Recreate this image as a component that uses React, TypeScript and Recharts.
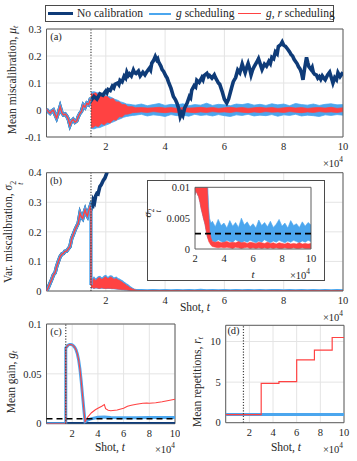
import React from 'react';
import { ComposedChart, Line, Area, XAxis, YAxis, CartesianGrid, ReferenceLine, ReferenceArea } from 'recharts';

const FONT = '"Liberation Serif", "DejaVu Serif", serif';
const INK = '#262626';
const NAVY = '#0e3b78';
const BLUE = '#4ba6ee';
const RED = '#ff4242';
const GRID = '#e4e4e4';
const FRAME = '#5e5e5e';

// ---------- axes ----------
const xTicks = [2, 4, 6, 8, 10];
const insetXTicks = [2, 4, 6, 8, 10];
const muTicks = [-0.1, 0, 0.1, 0.2, 0.3];
const varTicks = [0, 0.1, 0.2, 0.3, 0.4];
const insetVarTicks = [0, 0.005, 0.01];
const gainTicks = [0, 0.05, 0.1];
const repTicks = [0, 5, 10];
const calibrationStart = 1.5; // x10^4 shots
const gainTarget = 0.005;
const varTarget = 0.0025;

// ---------- (a) mean miscalibration ----------
const muPre: number[][] = [[0,0.003],[0.06,-0.006],[0.12,-0.012],[0.18,-0.004],[0.23,0],[0.3,-0.02],[0.34,-0.03],[0.4,-0.01],[0.46,0.012],[0.52,-0.01],[0.57,-0.018],[0.63,-0.015],[0.68,-0.022],[0.74,-0.035],[0.79,-0.056],[0.84,-0.042],[0.9,-0.035],[0.96,-0.045],[1.02,-0.04],[1.07,-0.025],[1.13,-0.012],[1.18,-0.005],[1.24,0.018],[1.3,0.01],[1.36,0.025],[1.42,0.02],[1.47,0.037],[1.5,0.035]];
const muNoCal: number[][] = [[1.5,0.035],[1.6,0.05],[1.7,0.04],[1.8,0.06],[1.9,0.055],[2.0,0.07],[2.04,0.064],[2.08,0.076],[2.15,0.072],[2.22,0.088],[2.27,0.082],[2.31,0.095],[2.4,0.1],[2.44,0.094],[2.48,0.11],[2.55,0.104],[2.62,0.125],[2.67,0.118],[2.71,0.14],[2.76,0.128],[2.8,0.134],[2.86,0.126],[2.93,0.148],[2.97,0.138],[3.02,0.135],[3.1,0.144],[3.16,0.126],[3.25,0.14],[3.32,0.13],[3.39,0.143],[3.47,0.155],[3.51,0.148],[3.55,0.173],[3.62,0.185],[3.67,0.198],[3.72,0.186],[3.75,0.19],[3.78,0.178],[3.86,0.162],[3.9,0.15],[3.95,0.143],[4.03,0.125],[4.07,0.118],[4.11,0.105],[4.2,0.08],[4.28,0.05],[4.35,0.038],[4.4,0.025],[4.46,0.005],[4.51,-0.025],[4.56,-0.012],[4.6,-0.02],[4.66,0.008],[4.74,0.025],[4.82,0.05],[4.86,0.045],[4.9,0.074],[4.98,0.09],[5.03,0.085],[5.07,0.11],[5.15,0.102],[5.24,0.12],[5.28,0.112],[5.32,0.128],[5.41,0.136],[5.46,0.124],[5.5,0.128],[5.58,0.118],[5.66,0.13],[5.7,0.12],[5.75,0.11],[5.8,0.1],[5.84,0.096],[5.92,0.07],[6.0,0.04],[6.08,0.026],[6.14,0.04],[6.2,0.065],[6.25,0.085],[6.3,0.105],[6.38,0.12],[6.45,0.148],[6.52,0.138],[6.6,0.17],[6.66,0.15],[6.7,0.138],[6.76,0.16],[6.8,0.172],[6.86,0.15],[6.9,0.13],[6.95,0.148],[7.0,0.16],[7.08,0.175],[7.15,0.19],[7.21,0.17],[7.27,0.15],[7.35,0.17],[7.42,0.162],[7.5,0.18],[7.55,0.172],[7.6,0.195],[7.66,0.19],[7.72,0.215],[7.78,0.208],[7.82,0.235],[7.9,0.242],[7.95,0.252],[8.0,0.24],[8.06,0.236],[8.13,0.226],[8.2,0.215],[8.25,0.205],[8.3,0.2],[8.35,0.188],[8.4,0.18],[8.45,0.172],[8.5,0.16],[8.55,0.152],[8.6,0.138],[8.65,0.112],[8.7,0.15],[8.77,0.195],[8.81,0.176],[8.85,0.16],[8.92,0.15],[8.96,0.158],[9.0,0.138],[9.05,0.132],[9.1,0.13],[9.15,0.118],[9.2,0.124],[9.25,0.114],[9.3,0.126],[9.35,0.118],[9.4,0.112],[9.48,0.13],[9.55,0.14],[9.62,0.115],[9.66,0.1],[9.72,0.12],[9.78,0.112],[9.83,0.138],[9.9,0.124],[9.95,0.132],[10,0.14]];
// bands: [t, low, high]
const muGBand: number[][] = [[1.5,-0.068,0.066],[1.6,-0.07,0.068],[1.7,-0.066,0.064],[1.8,-0.065,0.062],[1.9,-0.06,0.06],[2.0,-0.056,0.055],[2.1,-0.052,0.05],[2.2,-0.046,0.046],[2.3,-0.042,0.04],[2.4,-0.036,0.036],[2.5,-0.032,0.03],[2.6,-0.027,0.027],[2.7,-0.024,0.022],[2.8,-0.022,0.021],[2.9,-0.02,0.019],[3.0,-0.019,0.018],[3.2,-0.016,0.022],[3.4,-0.022,0.016],[3.6,-0.018,0.02],[3.8,-0.02,0.024],[4.0,-0.024,0.017],[4.2,-0.017,0.021],[4.4,-0.021,0.019],[4.6,-0.019,0.023],[4.8,-0.023,0.016],[5.0,-0.016,0.02],[5.2,-0.02,0.018],[5.4,-0.018,0.025],[5.6,-0.022,0.017],[5.8,-0.017,0.021],[6.0,-0.021,0.019],[6.2,-0.024,0.016],[6.4,-0.018,0.022],[6.6,-0.02,0.02],[6.8,-0.016,0.024],[7.0,-0.022,0.018],[7.2,-0.019,0.021],[7.4,-0.021,0.017],[7.6,-0.017,0.023],[7.8,-0.023,0.019],[8.0,-0.018,0.022],[8.2,-0.02,0.016],[8.4,-0.016,0.024],[8.6,-0.022,0.02],[8.8,-0.019,0.018],[9.0,-0.021,0.022],[9.2,-0.024,0.017],[9.4,-0.018,0.021],[9.6,-0.02,0.023],[9.8,-0.017,0.019],[10.0,-0.019,0.02]];
const muGRBand: number[][] = [[1.5,-0.062,0.062],[1.55,-0.066,0.058],[1.65,-0.058,0.064],[1.75,-0.062,0.055],[1.85,-0.05,0.058],[1.95,-0.055,0.05],[2.05,-0.045,0.05],[2.15,-0.048,0.04],[2.25,-0.036,0.042],[2.35,-0.038,0.03],[2.45,-0.025,0.03],[2.55,-0.026,0.02],[2.65,-0.016,0.02],[2.75,-0.015,0.012],[2.9,-0.01,0.012],[3.0,-0.009,0.008],[3.2,-0.007,0.009],[3.4,-0.009,0.007],[3.6,-0.006,0.008],[3.8,-0.008,0.01],[4.0,-0.01,0.007],[4.2,-0.007,0.009],[4.4,-0.009,0.006],[4.6,-0.006,0.009],[4.8,-0.008,0.007],[5.0,-0.01,0.008],[5.2,-0.007,0.01],[5.4,-0.009,0.007],[5.6,-0.006,0.009],[5.8,-0.008,0.006],[6.0,-0.007,0.008],[6.2,-0.009,0.01],[6.4,-0.006,0.007],[6.6,-0.008,0.009],[6.8,-0.01,0.006],[7.0,-0.007,0.008],[7.2,-0.009,0.01],[7.4,-0.006,0.007],[7.6,-0.008,0.009],[7.8,-0.007,0.006],[8.0,-0.009,0.008],[8.2,-0.006,0.01],[8.4,-0.008,0.007],[8.6,-0.01,0.009],[8.8,-0.007,0.006],[9.0,-0.009,0.008],[9.2,-0.006,0.009],[9.4,-0.008,0.007],[9.6,-0.007,0.01],[9.8,-0.009,0.006],[10.0,-0.006,0.008]];

// ---------- (b) variance of miscalibration ----------
const varPre: number[][] = [[0,0],[0.06,0.012],[0.12,0.026],[0.18,0.04],[0.23,0.054],[0.29,0.062],[0.34,0.082],[0.4,0.1],[0.46,0.116],[0.52,0.125],[0.57,0.127],[0.62,0.134],[0.68,0.135],[0.73,0.142],[0.79,0.15],[0.85,0.178],[0.9,0.19],[0.96,0.206],[1.0,0.215],[1.07,0.229],[1.13,0.263],[1.18,0.25],[1.22,0.245],[1.26,0.262],[1.3,0.274],[1.34,0.26],[1.38,0.253],[1.42,0.27],[1.47,0.285],[1.5,0.272]];
const varReset: number[][] = [[1.5,0.02]];
const varNoCal: number[][] = [[1.5,0.272],[1.52,0.29],[1.55,0.28],[1.58,0.307],[1.62,0.3],[1.66,0.322],[1.7,0.33],[1.74,0.328],[1.8,0.353],[1.85,0.36],[1.92,0.375],[1.97,0.382],[2.03,0.398],[2.1,0.42],[2.2,0.45]];
const varGRBand: number[][] = [[1.5,0.01,0.04],[1.55,0.012,0.036],[1.6,0.009,0.042],[1.65,0.011,0.035],[1.7,0.011,0.039],[1.75,0.009,0.044],[1.8,0.009,0.045],[1.85,0.011,0.04],[1.9,0.01,0.041],[1.95,0.009,0.046],[2.0,0.0088,0.048],[2.05,0.0095,0.042],[2.1,0.0092,0.043],[2.15,0.009,0.047],[2.2,0.0087,0.046],[2.25,0.0085,0.041],[2.3,0.008,0.04],[2.35,0.0075,0.042],[2.4,0.0068,0.038],[2.45,0.0063,0.036],[2.5,0.0058,0.033],[2.55,0.0053,0.03],[2.6,0.0048,0.026],[2.65,0.0044,0.023],[2.7,0.0039,0.019],[2.75,0.0032,0.016],[2.8,0.0026,0.012],[2.85,0.002,0.0095],[2.9,0.0016,0.0068],[2.95,0.0012,0.0052],[3.0,0.001,0.003],[3.1,0.0006,0.0018],[3.2,0.0004,0.0012],[3.4,0.0003,0.0011],[3.6,0.0002,0.0012],[3.8,0.0003,0.001],[4.0,0.0002,0.0011],[4.2,0.0003,0.0012],[4.4,0.0002,0.001],[4.6,0.0001,0.0011],[4.8,0.0003,0.001],[5.0,0.0002,0.0012],[5.2,0.0001,0.001],[5.4,0.0002,0.0011],[5.6,0.0003,0.0009],[5.8,0.0001,0.0011],[6.0,0.0002,0.001],[6.2,0.0001,0.0009],[6.4,0.0002,0.0011],[6.6,0.0001,0.001],[6.8,0.0002,0.0009],[7.0,0.0001,0.0011],[7.2,0.0002,0.0009],[7.4,0.0001,0.001],[7.6,0.0002,0.0008],[7.8,0.0001,0.001],[8.0,0.0001,0.0009],[8.2,0.0002,0.0008],[8.4,0.0001,0.001],[8.6,0.0001,0.0008],[8.8,0.0002,0.0009],[9.0,0.0001,0.0008],[9.2,0.0001,0.001],[9.4,0.0002,0.0008],[9.6,0.0001,0.0009],[9.8,0.0001,0.0008],[10.0,0.0001,0.0009]];
const varGBand: number[][] = [[1.5,0.01,0.044],[1.55,0.012,0.041],[1.6,0.009,0.046],[1.65,0.011,0.04],[1.7,0.011,0.043],[1.75,0.009,0.048],[1.8,0.009,0.049],[1.85,0.011,0.044],[1.9,0.01,0.045],[1.95,0.009,0.05],[2.0,0.0088,0.052],[2.05,0.0095,0.046],[2.1,0.0092,0.047],[2.15,0.009,0.051],[2.2,0.0087,0.05],[2.25,0.0085,0.045],[2.3,0.008,0.044],[2.35,0.0075,0.046],[2.4,0.0068,0.042],[2.45,0.0063,0.04],[2.5,0.0058,0.037],[2.55,0.0053,0.034],[2.6,0.0048,0.03],[2.65,0.0044,0.027],[2.7,0.0039,0.023],[2.75,0.0032,0.02],[2.8,0.0026,0.016],[2.85,0.002,0.012],[2.9,0.0017,0.009],[2.95,0.0015,0.0065],[3.0,0.0014,0.005],[3.1,0.0012,0.0042],[3.2,0.0013,0.0045],[3.4,0.0011,0.0036],[3.6,0.0015,0.0048],[3.8,0.0012,0.0038],[4.0,0.001,0.0042],[4.2,0.0014,0.0034],[4.4,0.0012,0.0046],[4.6,0.0011,0.0037],[4.8,0.0015,0.0043],[5.0,0.0012,0.0035],[5.2,0.001,0.005],[5.4,0.0013,0.0039],[5.6,0.0011,0.0044],[5.8,0.0014,0.0036],[6.0,0.0012,0.0041],[6.2,0.001,0.0034],[6.4,0.0013,0.0047],[6.6,0.0011,0.0038],[6.8,0.0015,0.0043],[7.0,0.0012,0.0036],[7.2,0.001,0.0045],[7.4,0.0013,0.0035],[7.6,0.0011,0.004],[7.8,0.0014,0.0048],[8.0,0.0012,0.0037],[8.2,0.001,0.0042],[8.4,0.0013,0.0034],[8.6,0.0011,0.0046],[8.8,0.0014,0.0038],[9.0,0.0012,0.0041],[9.2,0.001,0.0035],[9.4,0.0013,0.0044],[9.6,0.0011,0.0037],[9.8,0.0014,0.0043],[10.0,0.0012,0.0039]];

// ---------- (c) mean gain ----------
const gainNoCal: number[][] = [[0,0],[10,0]];
const gainShared: number[][] = [[0,0],[1.5,0],[1.5,0.076],[1.6,0.0775],[1.7,0.079],[1.8,0.0795],[1.9,0.0795],[2.0,0.079],[2.1,0.078],[2.2,0.0765],[2.3,0.074],[2.4,0.07],[2.5,0.064],[2.6,0.055],[2.7,0.043],[2.8,0.029],[2.9,0.015],[3.0,0.002]];
const gainG: number[][] = [[3.2,0.0035],[3.5,0.005],[4.0,0.0065],[4.5,0.0068],[5.0,0.0063],[6.0,0.006],[7.0,0.006],[8.0,0.0062],[9.0,0.0062],[10.0,0.0062]];
const gainGR: number[][] = [[3.2,0.0065],[3.5,0.011],[3.8,0.014],[4.0,0.0155],[4.3,0.0175],[4.5,0.0192],[4.6,0.015],[4.8,0.0135],[5.0,0.013],[5.5,0.0138],[6.0,0.0155],[6.3,0.0175],[6.6,0.0185],[7.0,0.0195],[7.5,0.0205],[7.8,0.0208],[8.0,0.0205],[8.5,0.021],[9.0,0.022],[9.5,0.0232],[10.0,0.0245]];

// ---------- (d) mean repetitions ----------
const repG: number[][] = [[0,1],[10,1]];
const repGR: number[][] = [[0,1],[3.0,4.85],[4.5,5.05],[6.0,7.75],[7.5,8.95],[9.0,10.5],[10,10.5]];

const pts = (a: number[][]) => a.map(([t, v]) => ({ t, v }));
const band = (a: number[][]) => a.map(([t, lo, hi]) => ({ t, r: [lo, hi] }));

const tickStyle = { fontSize: 10.5, fill: INK, fontFamily: FONT };

function xAxis(ticks: number[], domain: number[]) {
  return (
    <XAxis type="number" dataKey="t" domain={domain} ticks={ticks} interval={0} tickSize={0} tickMargin={6}
      axisLine={false} tickLine={false} tick={tickStyle} allowDataOverflow height={20} />
  );
}
function yAxis(ticks: number[], domain: number[], width: number) {
  return (
    <YAxis type="number" domain={domain} ticks={ticks} interval={0} tickSize={0} tickMargin={5}
      axisLine={false} tickLine={false} tick={tickStyle} allowDataOverflow width={width} />
  );
}

function T({ x, y, size = 11, rot = false, align = 'center', children }: any) {
  const tr = align === 'center' ? 'translate(-50%,-50%)' : align === 'right' ? 'translate(-100%,-50%)' : 'translate(0,-50%)';
  return (
    <div style={{ position: 'absolute', left: x, top: y, transform: tr + (rot ? ' rotate(-90deg)' : ''), fontFamily: FONT,
      fontSize: size, color: INK, whiteSpace: 'nowrap', lineHeight: 1 }}>{children}</div>
  );
}
const Sub = ({ c }: any) => <sub style={{ fontSize: '0.7em', verticalAlign: '-0.25em' }}><i>{c}</i></sub>;
const SubSup = ({ b, p }: any) => (
  <span style={{ display: 'inline-flex', flexDirection: 'column', fontSize: '0.68em', lineHeight: 0.95, verticalAlign: '-0.45em' }}>
    <span>{p}</span><i>{b}</i>
  </span>
);
const E4 = () => <span>×10<sup style={{ fontSize: '0.7em' }}>4</sup></span>;

export default function App() {
  return (
    <div style={{ position: 'absolute', left: 0, top: 0, width: 357, height: 461, background: '#fff', overflow: 'hidden' }}>
      {/* (a) */}
      <div style={{ position: 'absolute', left: 0, top: 20 }}>
        <ComposedChart width={357} height={140} margin={{ top: 9, right: 14, bottom: 3, left: 0 }}>
          <CartesianGrid stroke={GRID} />
          {xAxis(xTicks, [0, 10])}
          {yAxis(muTicks, [-0.1, 0.3], 46.5)}
          <Line data={pts([...muPre, ...muNoCal])} dataKey="v" stroke={NAVY} strokeWidth={3.6} dot={false} isAnimationActive={false} />
          <Area data={band(muGBand)} dataKey="r" stroke={BLUE} strokeWidth={0.8} fill={BLUE} fillOpacity={1} dot={false} activeDot={false} isAnimationActive={false} />
          <Line data={pts(muPre)} dataKey="v" stroke={BLUE} strokeWidth={3.4} dot={false} isAnimationActive={false} />
          <Area data={band(muGRBand)} dataKey="r" stroke={RED} strokeWidth={0.8} fill={RED} fillOpacity={1} dot={false} activeDot={false} isAnimationActive={false} />
          <Line data={pts(muPre)} dataKey="v" stroke={RED} strokeWidth={1.4} dot={false} isAnimationActive={false} />
          <ReferenceLine x={calibrationStart} stroke="#444" strokeWidth={1.2} strokeDasharray="1.2 1.6" />
          <ReferenceArea x1={0} x2={10} y1={-0.1} y2={0.3} fill="none" fillOpacity={0} stroke={FRAME} strokeWidth={1} />
        </ComposedChart>
      </div>

      {/* (b) */}
      <div style={{ position: 'absolute', left: 0, top: 165 }}>
        <ComposedChart width={357} height={146} margin={{ top: 7.7, right: 14, bottom: 0, left: 0 }}>
          <CartesianGrid stroke={GRID} />
          {xAxis(xTicks, [0, 10])}
          {yAxis(varTicks, [0, 0.4], 46.5)}
          <Line data={pts([...varPre, ...varNoCal])} dataKey="v" stroke={NAVY} strokeWidth={3.6} dot={false} isAnimationActive={false} />
          <Area data={band(varGBand)} dataKey="r" stroke={BLUE} strokeWidth={1.4} fill={BLUE} fillOpacity={1} dot={false} activeDot={false} isAnimationActive={false} />
          <Line data={pts([...varPre, ...varReset])} dataKey="v" stroke={BLUE} strokeWidth={3.4} dot={false} isAnimationActive={false} />
          <Area data={band(varGRBand)} dataKey="r" stroke={RED} strokeWidth={0.8} fill={RED} fillOpacity={1} dot={false} activeDot={false} isAnimationActive={false} />
          <Line data={pts([...varPre, ...varReset])} dataKey="v" stroke={RED} strokeWidth={1.4} dot={false} isAnimationActive={false} />
          <ReferenceLine x={calibrationStart} stroke="#444" strokeWidth={1.2} strokeDasharray="1.2 1.6" />
          <ReferenceArea x1={0} x2={10} y1={0} y2={0.4} fill="none" fillOpacity={0} stroke={FRAME} strokeWidth={1} />
        </ComposedChart>
      </div>

      {/* (b) inset */}
      <div style={{ position: 'absolute', left: 147, top: 180, width: 178, height: 101, boxSizing: 'border-box', border: '1px solid #4a4a4a', background: '#fff' }}>
        <ComposedChart width={176} height={99} margin={{ top: 6.3, right: 13, bottom: 11, left: 0 }}>
          {xAxis(insetXTicks, [2, 10])}
          {yAxis(insetVarTicks, [0, 0.01], 47)}
          <Area data={band(varGBand)} dataKey="r" stroke={BLUE} strokeWidth={0.6} fill={BLUE} fillOpacity={1} dot={false} activeDot={false} isAnimationActive={false} />
          <Area data={band(varGRBand)} dataKey="r" stroke={RED} strokeWidth={0.6} fill={RED} fillOpacity={1} dot={false} activeDot={false} isAnimationActive={false} />
          <ReferenceLine y={varTarget} stroke="#000" strokeWidth={1.6} strokeDasharray="6 4" />
          <ReferenceArea x1={2} x2={10} y1={0} y2={0.01} fill="none" fillOpacity={0} stroke={FRAME} strokeWidth={1} />
        </ComposedChart>
      </div>

      {/* (c) */}
      <div style={{ position: 'absolute', left: 0, top: 315 }}>
        <ComposedChart width={180} height={140} margin={{ top: 9, right: 5, bottom: 11.3, left: 0 }}>
          <CartesianGrid stroke={GRID} />
          {xAxis(xTicks, [0, 10])}
          {yAxis(gainTicks, [0, 0.1], 46.5)}
          <Line data={pts(gainNoCal)} dataKey="v" stroke={NAVY} strokeWidth={3.4} dot={false} isAnimationActive={false} />
          <Line data={pts([...gainShared, ...gainG])} dataKey="v" stroke={BLUE} strokeWidth={3} dot={false} isAnimationActive={false} />
          <Line data={pts([...gainShared, ...gainGR])} dataKey="v" stroke={RED} strokeWidth={1.1} dot={false} isAnimationActive={false} />
          <ReferenceLine y={gainTarget} stroke="#000" strokeWidth={1.6} strokeDasharray="6 4" />
          <ReferenceLine x={calibrationStart} stroke="#444" strokeWidth={1.2} strokeDasharray="1.2 1.6" />
          <ReferenceArea x1={0} x2={10} y1={0} y2={0.1} fill="none" fillOpacity={0} stroke={FRAME} strokeWidth={1} />
        </ComposedChart>
      </div>

      {/* (d) */}
      <div style={{ position: 'absolute', left: 180, top: 315 }}>
        <ComposedChart width={177} height={140} margin={{ top: 10.3, right: 13, bottom: 12.3, left: 0 }}>
          <CartesianGrid stroke={GRID} />
          {xAxis(xTicks, [0, 10])}
          {yAxis(repTicks, [0, 12], 45.7)}
          <Line data={pts(repG)} dataKey="v" stroke={BLUE} strokeWidth={3} dot={false} isAnimationActive={false} />
          <Line data={pts(repGR)} type="stepAfter" dataKey="v" stroke={RED} strokeWidth={1.2} dot={false} isAnimationActive={false} />
          <ReferenceLine x={calibrationStart} stroke="#444" strokeWidth={1.2} strokeDasharray="1.2 1.6" />
          <ReferenceArea x1={0} x2={10} y1={0} y2={12} fill="none" fillOpacity={0} stroke={FRAME} strokeWidth={1} />
        </ComposedChart>
      </div>

      {/* legend */}
      <div style={{ position: 'absolute', left: 45, top: 5, width: 289, height: 17, boxSizing: 'border-box', border: '1px solid #4a4a4a', background: '#fff' }}>
        <div style={{ position: 'absolute', left: 2, top: 6, width: 25, height: 3, background: NAVY }} />
        <T x={31} y={7.5} size={11.5} align="left">No calibration</T>
        <div style={{ position: 'absolute', left: 103, top: 6.5, width: 22, height: 2, background: BLUE }} />
        <T x={130} y={7.5} size={11.5} align="left"><i>g</i> scheduling</T>
        <div style={{ position: 'absolute', left: 192, top: 7, width: 23, height: 1, background: RED }} />
        <T x={220} y={7.5} size={11.5} align="left"><i>g</i>, <i>r</i> scheduling</T>
      </div>

      {/* panel labels */}
      <T x={56} y={37} size={10.5}>(a)</T>
      <T x={56} y={181} size={10.5}>(b)</T>
      <T x={56} y={331.5} size={10.5}>(c)</T>
      <T x={233.5} y={331} size={10.5}>(d)</T>

      {/* axis titles */}
      <T x={13.5} y={80} size={11.5} rot>Mean miscalibration, <i>μ</i><Sub c="t" /></T>
      <T x={13.5} y={232} size={11.5} rot>Var. miscalibration, <i>σ</i><SubSup b="t" p="2" /></T>
      <T x={13} y={382} size={11.5} rot>Mean gain, <i>g</i><Sub c="t" /></T>
      <T x={199} y={382} size={11.5} rot>Mean repetitions, <i>r</i><Sub c="t" /></T>
      <T x={152} y={213} size={11} rot><i>σ</i><SubSup b="t" p="2" /></T>

      <T x={195} y={308} size={11.5}>Shot, <i>t</i></T>
      <T x={110} y={448} size={11.5}>Shot, <i>t</i></T>
      <T x={286} y={448} size={11.5}>Shot, <i>t</i></T>
      <T x={253} y={274} size={11}><i>t</i></T>

      <T x={343} y={162} size={10.5} align="right"><E4 /></T>
      <T x={343} y={316} size={10.5} align="right"><E4 /></T>
      <T x={175} y={448} size={10.5} align="right"><E4 /></T>
      <T x={343} y={448} size={10.5} align="right"><E4 /></T>
      <T x={310} y={274} size={10.5} align="right"><E4 /></T>
    </div>
  );
}
